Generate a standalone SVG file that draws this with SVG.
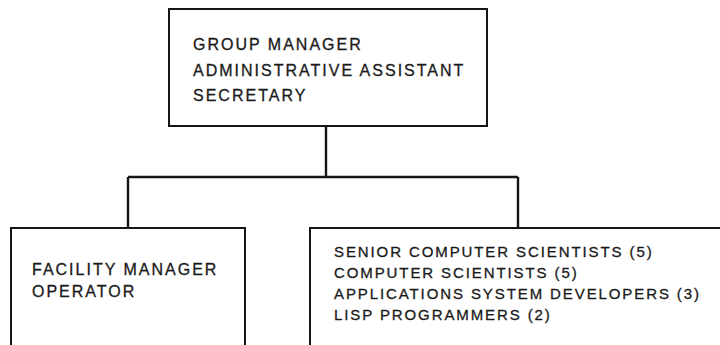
<svg xmlns="http://www.w3.org/2000/svg" width="720" height="345" viewBox="0 0 720 345">
<style>
.box{fill:none;stroke:#151515;stroke-width:2}
.ln{fill:none;stroke:#151515;stroke-width:2.4}
.t{font-family:"Liberation Sans",Arial,sans-serif;fill:#1a1a1a;stroke:#1a1a1a;stroke-width:0.3;letter-spacing:2px}
.t16{font-size:16px}
.t15{font-size:15px;letter-spacing:1.9px}
</style>
<rect width="720" height="345" fill="#fff"/>
<g id="node-group-manager">
<rect class="box" x="169" y="9" width="318" height="117"/>
<text class="t t16" x="193" y="50">GROUP MANAGER</text>
<text class="t t16" x="193" y="76">ADMINISTRATIVE ASSISTANT</text>
<text class="t t16" x="193" y="101">SECRETARY</text>
</g>
<g id="node-facility">
<path class="box" d="M11,350 V228 H245 V350"/>
<text class="t t16" x="32" y="275">FACILITY MANAGER</text>
<text class="t t16" x="32" y="297">OPERATOR</text>
</g>
<g id="node-scientists">
<path class="box" d="M310,350 V228 H722"/>
<text class="t t15" x="334" y="257">SENIOR COMPUTER SCIENTISTS (5)</text>
<text class="t t15" x="334" y="278">COMPUTER SCIENTISTS (5)</text>
<text class="t t15" x="334" y="299">APPLICATIONS SYSTEM DEVELOPERS (3)</text>
<text class="t t15" x="334" y="320">LISP PROGRAMMERS (2)</text>
</g>
<g id="connectors">
<path class="ln" d="M326,126 V177"/>
<path class="ln" d="M128,177 H518"/>
<path class="ln" d="M128,177 V228"/>
<path class="ln" d="M518,177 V228"/>
</g>
</svg>
